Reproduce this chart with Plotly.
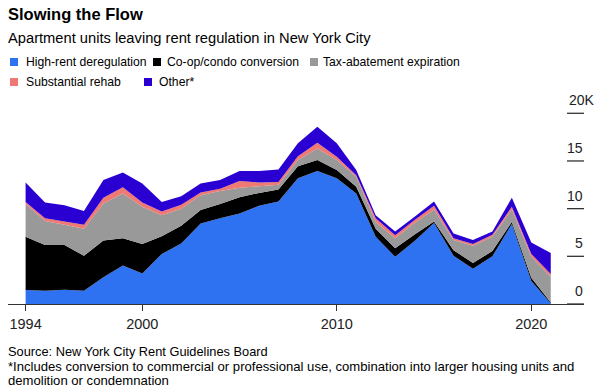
import plotly.graph_objects as go

years = list(range(1994, 2022))
high_rent = [1.47, 1.4, 1.5, 1.4, 2.8, 4.05, 3.2, 5.25, 6.35, 8.45, 9.0, 9.5, 10.3, 10.75,
             13.2, 13.95, 13.2, 11.6, 7.05, 4.95, 6.6, 8.5, 5.05, 3.7, 5.0, 8.4, 2.4, 0.05]
coop = [5.58, 4.8, 4.7, 3.65, 3.85, 2.85, 3.1, 1.85, 1.85, 1.4, 1.5, 1.7, 1.35, 1.25,
        1.25, 1.15, 0.85, 0.7, 0.85, 0.9, 0.7, 0.15, 0.6, 0.6, 0.55, 0.2, 0.35, 0.1]
tax = [3.45, 2.5, 2.1, 2.85, 3.9, 4.7, 3.9, 2.2, 1.8, 1.55, 1.35, 1.0, 0.7, 0.5,
       0.65, 1.2, 1.05, 1.05, 0.7, 1.05, 1.2, 1.25, 1.05, 1.8, 1.5, 1.3, 2.2, 2.7]
rehab = [0.2, 0.3, 0.35, 0.4, 0.6, 0.65, 0.45, 0.4, 0.4, 0.3, 0.25, 0.7, 0.4, 0.3,
         0.4, 0.6, 0.35, 0.15, 0.4, 0.3, 0.3, 0.4, 0.2, 0.2, 0.2, 0.3, 0.3, 0.3]
other = [2.05, 1.65, 1.7, 1.45, 1.85, 1.55, 2.0, 1.0, 0.9, 0.95, 0.9, 1.05, 1.2, 1.3,
         1.35, 1.7, 1.4, 0.55, 0.3, 0.4, 0.35, 0.45, 0.5, 0.4, 0.35, 0.95, 1.2, 2.2]

series_names = ["High-rent deregulation", "Co-op/condo conversion", "Tax-abatement expiration",
                "Substantial rehab", "Other*"]
series_values = [high_rent, coop, tax, rehab, other]
colors = ["#2f72f1", "#000000", "#999999", "#ef7a74", "#2a00d2"]

x_ticks = [1994, 2000, 2010, 2020]
y_ticks = [0, 5, 10, 15, 20]
y_tick_labels = ["0", "5", "10", "15", "20K"]

W, H = 600, 389
L, R, T, B = 8, 584, 100, 304
FONT = "Liberation Sans, Arial, sans-serif"

def px_x(px):
    return (px - L) / (R - L)

def px_y(py):
    return (B - py) / (B - T)

fig = go.Figure()
for name, vals, col in zip(series_names, series_values, colors):
    fig.add_trace(go.Scatter(
        x=years, y=vals, name=name, mode="lines", stackgroup="one",
        line=dict(width=0, color=col), fillcolor=col, showlegend=False,
        hoverinfo="skip",
    ))

shapes = []
annotations = []

# y tick lines on the right
for v in y_ticks:
    shapes.append(dict(type="line", xref="x domain", yref="y",
                       x0=px_x(567), x1=1.0, y0=v, y1=v,
                       line=dict(color="#333333", width=1.3)))
for v, lab in zip(y_ticks, y_tick_labels):
    if lab.endswith("K"):
        annotations.append(dict(xref="paper", yref="y", x=px_x(567), y=v, text=lab,
                                xanchor="left", yanchor="bottom", yshift=3, showarrow=False,
                                font=dict(family=FONT, size=14, color="#222")))
    else:
        annotations.append(dict(xref="paper", yref="y", x=px_x(585), y=v, text=lab,
                                xanchor="right", yanchor="bottom", yshift=3, showarrow=False,
                                font=dict(family=FONT, size=14, color="#222")))

# title & subtitle
annotations.append(dict(xref="paper", yref="paper", x=px_x(6), y=px_y(14), text="<b>Slowing the Flow</b>",
                        xanchor="left", yanchor="middle", showarrow=False,
                        font=dict(family=FONT, size=16.5, color="#000")))
annotations.append(dict(xref="paper", yref="paper", x=px_x(6), y=px_y(38),
                        text="Apartment units leaving rent regulation in New York City",
                        xanchor="left", yanchor="middle", showarrow=False,
                        font=dict(family=FONT, size=14.7, color="#000")))

# legend (manual)
legend_pos = [(10, 24, 62), (153, 164.5, 62), (310, 320.5, 62), (10, 24, 82), (144, 157, 82)]
for (sx, tx, cy), name, col in zip(legend_pos, series_names, colors):
    shapes.append(dict(type="rect", xref="paper", yref="paper",
                       x0=px_x(sx), x1=px_x(sx + 8), y0=px_y(cy + 4), y1=px_y(cy - 4),
                       fillcolor=col, line=dict(width=0)))
    annotations.append(dict(xref="paper", yref="paper", x=px_x(tx), y=px_y(cy), text=name,
                            xanchor="left", yanchor="middle", showarrow=False,
                            font=dict(family=FONT, size=12.2, color="#000")))

# footer
footer_lines = [
    ("Source: New York City Rent Guidelines Board", 351, 12.8),
    ("*Includes conversion to commercial or professional use, combination into larger housing units and", 366, 13.1),
    ("demolition or condemnation", 380, 13.1),
]
for txt, cy, fs in footer_lines:
    annotations.append(dict(xref="paper", yref="paper", x=px_x(6), y=px_y(cy), text=txt,
                            xanchor="left", yanchor="middle", align="left", showarrow=False,
                            font=dict(family=FONT, size=fs, color="#000")))

px_per_year = 19.45
x0 = 1994 - (25.6 - L) / px_per_year
x1 = 1994 + (R - 25.6) / px_per_year
px_per_k = 9.535

fig.update_layout(
    width=W, height=H,
    margin=dict(l=L, r=W - R, t=T, b=H - B, pad=0),
    paper_bgcolor="white", plot_bgcolor="white",
    showlegend=False,
    font=dict(family=FONT, size=14, color="#222"),
    xaxis=dict(range=[x0, x1], tickvals=x_ticks, ticktext=[str(v) for v in x_ticks],
               ticks="outside", ticklen=6, tickcolor="#333", tickwidth=1,
               showline=True, linecolor="#333", linewidth=1.3, showgrid=False, zeroline=False,
               tickfont=dict(family=FONT, size=14.5, color="#222")),
    yaxis=dict(range=[0, (B - T) / px_per_k], showticklabels=False, showgrid=False,
               zeroline=False, showline=False),
    shapes=shapes, annotations=annotations,
)

fig.write_html("out.html", config={"displayModeBar": False},
               post_script="document.body.style.margin='0';")
